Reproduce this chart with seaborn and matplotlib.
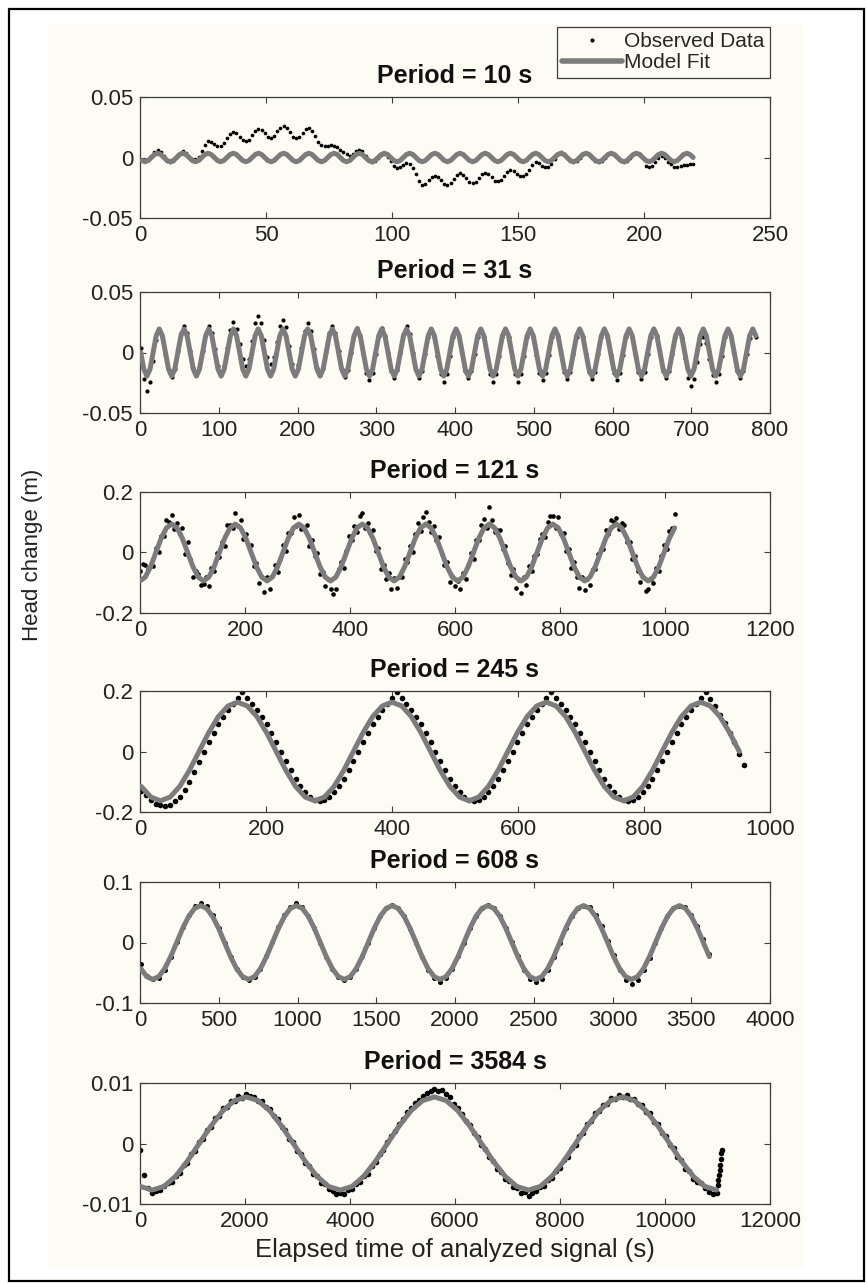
import numpy as np
import matplotlib
matplotlib.use("Agg")
import matplotlib.pyplot as plt
from matplotlib.lines import Line2D
from matplotlib.patches import Rectangle
import seaborn as sns

# ------------------------------------------------------------------ data
titles = ["Period = 10 s", "Period = 31 s", "Period = 121 s",
          "Period = 245 s", "Period = 608 s", "Period = 3584 s"]
x_limits = [(0, 250), (0, 800), (0, 1200), (0, 1000), (0, 4000), (0, 12000)]
x_ticks = [[0, 50, 100, 150, 200, 250],
           [0, 100, 200, 300, 400, 500, 600, 700, 800],
           [0, 200, 400, 600, 800, 1000, 1200],
           [0, 200, 400, 600, 800, 1000],
           [0, 500, 1000, 1500, 2000, 2500, 3000, 3500, 4000],
           [0, 2000, 4000, 6000, 8000, 10000, 12000]]
y_limits = [(-0.05, 0.05), (-0.05, 0.05), (-0.2, 0.2),
            (-0.2, 0.2), (-0.1, 0.1), (-0.01, 0.01)]
y_ticks = [[-0.05, 0, 0.05], [-0.05, 0, 0.05], [-0.2, 0, 0.2],
           [-0.2, 0, 0.2], [-0.1, 0, 0.1], [-0.01, 0, 0.01]]
y_tick_labels = [["-0.05", "0", "0.05"], ["-0.05", "0", "0.05"],
                 ["-0.2", "0", "0.2"], ["-0.2", "0", "0.2"],
                 ["-0.1", "0", "0.1"], ["-0.01", "0", "0.01"]]
legend_labels = ["Observed Data", "Model Fit"]
y_label = "Head change (m)"
x_label = "Elapsed time of analyzed signal (s)"

# sampling (start time, step) of each series, in seconds
obs_sampling = [(0.75, 1.25), (0.95, 3.925), (0.0, 5.0417),
                (1.875, 7.65625), (5.0, 38.0), (8.0, 74.667)]
fit_sampling = [(0.75, 1.25), (0.95, 3.925), (0.0, 10.083),
                (1.875, 15.3125), (5.0, 38.0), (8.0, 224.0)]

# ---- Period = 10 s
obs1 = [
    -0.0017, -0.0030, -0.0017, 0.0015, 0.0047, 0.0060, 0.0047, 0.0015,
    -0.0027, -0.0040, -0.0027, 0.0005, 0.0037, 0.0050, 0.0037, 0.0005,
    -0.0012, -0.0015, 0.0008, 0.0050, 0.0102, 0.0135, 0.0132, 0.0110,
    0.0093, 0.0095, 0.0118, 0.0160, 0.0197, 0.0210, 0.0202, 0.0170,
    0.0143, 0.0135, 0.0148, 0.0185, 0.0222, 0.0235, 0.0227, 0.0200,
    0.0173, 0.0165, 0.0178, 0.0215, 0.0247, 0.0260, 0.0242, 0.0210,
    0.0173, 0.0160, 0.0173, 0.0200, 0.0232, 0.0245, 0.0222, 0.0180,
    0.0130, 0.0105, 0.0095, 0.0095, 0.0100, 0.0098, 0.0085, 0.0060,
    0.0045, 0.0025, 0.0015, 0.0025, 0.0050, 0.0065, 0.0050, 0.0015,
    -0.0022, -0.0035, -0.0027, 0.0000, 0.0022, 0.0025, 0.0007, -0.0030,
    -0.0067, -0.0085, -0.0082, -0.0060, -0.0048, -0.0055, -0.0088, -0.0140,
    -0.0192, -0.0225, -0.0217, -0.0190, -0.0163, -0.0155, -0.0163, -0.0190,
    -0.0222, -0.0230, -0.0212, -0.0180, -0.0143, -0.0130, -0.0143, -0.0170,
    -0.0202, -0.0213, -0.0200, -0.0170, -0.0138, -0.0127, -0.0138, -0.0165,
    -0.0192, -0.0195, -0.0182, -0.0150, -0.0118, -0.0105, -0.0113, -0.0140,
    -0.0152, -0.0155, -0.0137, -0.0100, -0.0058, -0.0035, -0.0043, -0.0070,
    -0.0077, -0.0075, -0.0052, -0.0010, 0.0027, 0.0045, 0.0032, 0.0000,
    -0.0025, -0.0035, -0.0025, 0.0000, 0.0025, 0.0035, 0.0025, 0.0000,
    -0.0025, -0.0035, -0.0025, 0.0000, 0.0025, 0.0035, 0.0025, 0.0000,
    -0.0025, -0.0035, -0.0025, 0.0000, 0.0025, 0.0035, 0.0025, 0.0000,
    -0.0067, -0.0080, -0.0067, -0.0035, -0.0003, 0.0010, -0.0003, -0.0035,
    -0.0050, -0.0075, -0.0075, -0.0070, -0.0065, -0.0060, -0.0055, -0.0050,
]
fit1 = [
    -0.0025, -0.0035, -0.0025, 0.0, 0.0025, 0.0035, 0.0025, 0.0,
    -0.0025, -0.0035, -0.0025, 0.0, 0.0025, 0.0035, 0.0025, 0.0,
    -0.0025, -0.0035, -0.0025, 0.0, 0.0025, 0.0035, 0.0025, 0.0,
    -0.0025, -0.0035, -0.0025, 0.0, 0.0025, 0.0035, 0.0025, 0.0,
    -0.0025, -0.0035, -0.0025, 0.0, 0.0025, 0.0035, 0.0025, 0.0,
    -0.0025, -0.0035, -0.0025, 0.0, 0.0025, 0.0035, 0.0025, 0.0,
    -0.0025, -0.0035, -0.0025, 0.0, 0.0025, 0.0035, 0.0025, 0.0,
    -0.0025, -0.0035, -0.0025, 0.0, 0.0025, 0.0035, 0.0025, 0.0,
    -0.0025, -0.0035, -0.0025, 0.0, 0.0025, 0.0035, 0.0025, 0.0,
    -0.0025, -0.0035, -0.0025, 0.0, 0.0025, 0.0035, 0.0025, 0.0,
    -0.0025, -0.0035, -0.0025, 0.0, 0.0025, 0.0035, 0.0025, 0.0,
    -0.0025, -0.0035, -0.0025, 0.0, 0.0025, 0.0035, 0.0025, 0.0,
    -0.0025, -0.0035, -0.0025, 0.0, 0.0025, 0.0035, 0.0025, 0.0,
    -0.0025, -0.0035, -0.0025, 0.0, 0.0025, 0.0035, 0.0025, 0.0,
    -0.0025, -0.0035, -0.0025, 0.0, 0.0025, 0.0035, 0.0025, 0.0,
    -0.0025, -0.0035, -0.0025, 0.0, 0.0025, 0.0035, 0.0025, 0.0,
    -0.0025, -0.0035, -0.0025, 0.0, 0.0025, 0.0035, 0.0025, 0.0,
    -0.0025, -0.0035, -0.0025, 0.0, 0.0025, 0.0035, 0.0025, 0.0,
    -0.0025, -0.0035, -0.0025, 0.0, 0.0025, 0.0035, 0.0025, 0.0,
    -0.0025, -0.0035, -0.0025, 0.0, 0.0025, 0.0035, 0.0025, 0.0,
    -0.0025, -0.0035, -0.0025, 0.0, 0.0025, 0.0035, 0.0025, 0.0,
    -0.0025, -0.0035, -0.0025, 0.0, 0.0025, 0.0035, 0.0025, 0.0,
]

# ---- Period = 31 s
obs2 = [
    0.0040, -0.0215, -0.0320, -0.0247, -0.0070, 0.0107, 0.0180, 0.0124,
    -0.0010, -0.0144, -0.0200, -0.0138, 0.0010, 0.0158, 0.0220, 0.0160,
    0.0015, -0.0130, -0.0190, -0.0130, 0.0015, 0.0160, 0.0220, 0.0163,
    0.0025, -0.0113, -0.0170, -0.0108, 0.0040, 0.0188, 0.0250, 0.0197,
    0.0070, -0.0057, -0.0110, -0.0050, 0.0095, 0.0240, 0.0300, 0.0241,
    0.0100, -0.0038, -0.0095, -0.0041, 0.0090, 0.0217, 0.0270, 0.0207,
    0.0055, -0.0097, -0.0160, -0.0101, 0.0040, 0.0181, 0.0240, 0.0177,
    0.0025, -0.0127, -0.0190, -0.0130, 0.0015, 0.0160, 0.0220, 0.0158,
    0.0010, -0.0138, -0.0200, -0.0141, 0.0000, 0.0141, 0.0200, 0.0137,
    -0.0015, -0.0167, -0.0230, -0.0167, -0.0015, 0.0137, 0.0200, 0.0140,
    -0.0005, -0.0150, -0.0210, -0.0148, 0.0000, 0.0148, 0.0220, 0.0156,
    0.0000, -0.0148, -0.0210, -0.0152, -0.0010, 0.0131, 0.0190, 0.0127,
    -0.0025, -0.0177, -0.0240, -0.0177, -0.0025, 0.0127, 0.0190, 0.0131,
    -0.0010, -0.0151, -0.0210, -0.0151, -0.0010, 0.0131, 0.0190, 0.0127,
    -0.0025, -0.0177, -0.0240, -0.0177, -0.0025, 0.0127, 0.0190, 0.0127,
    -0.0025, -0.0177, -0.0240, -0.0177, -0.0025, 0.0127, 0.0190, 0.0128,
    -0.0020, -0.0168, -0.0230, -0.0168, -0.0020, 0.0128, 0.0190, 0.0130,
    -0.0015, -0.0160, -0.0220, -0.0160, -0.0015, 0.0130, 0.0190, 0.0130,
    -0.0015, -0.0160, -0.0220, -0.0160, -0.0015, 0.0130, 0.0190, 0.0128,
    -0.0020, -0.0168, -0.0230, -0.0168, -0.0020, 0.0128, 0.0190, 0.0130,
    -0.0015, -0.0160, -0.0220, -0.0160, -0.0015, 0.0130, 0.0190, 0.0134,
    -0.0010, -0.0151, -0.0210, -0.0151, -0.0010, 0.0131, 0.0190, 0.0121,
    -0.0045, -0.0211, -0.0280, -0.0220, -0.0075, 0.0070, 0.0130, 0.0076,
    -0.0055, -0.0186, -0.0240, -0.0177, -0.0025, 0.0127, 0.0190, 0.0131,
    -0.0010, -0.0151, -0.0210, -0.0153, -0.0015, 0.0123, 0.0180, 0.0130,
]
fit2 = [
    0.0, -0.0138, -0.0195, -0.0138, 0.0, 0.0138, 0.0195, 0.0138,
    0.0, -0.0138, -0.0195, -0.0138, 0.0, 0.0138, 0.0195, 0.0138,
    0.0, -0.0138, -0.0195, -0.0138, 0.0, 0.0138, 0.0195, 0.0138,
    0.0, -0.0138, -0.0195, -0.0138, 0.0, 0.0138, 0.0195, 0.0138,
    0.0, -0.0138, -0.0195, -0.0138, 0.0, 0.0138, 0.0195, 0.0138,
    0.0, -0.0138, -0.0195, -0.0138, 0.0, 0.0138, 0.0195, 0.0138,
    0.0, -0.0138, -0.0195, -0.0138, 0.0, 0.0138, 0.0195, 0.0138,
    0.0, -0.0138, -0.0195, -0.0138, 0.0, 0.0138, 0.0195, 0.0138,
    0.0, -0.0138, -0.0195, -0.0138, 0.0, 0.0138, 0.0195, 0.0138,
    0.0, -0.0138, -0.0195, -0.0138, 0.0, 0.0138, 0.0195, 0.0138,
    0.0, -0.0138, -0.0195, -0.0138, 0.0, 0.0138, 0.0195, 0.0138,
    0.0, -0.0138, -0.0195, -0.0138, 0.0, 0.0138, 0.0195, 0.0138,
    0.0, -0.0138, -0.0195, -0.0138, 0.0, 0.0138, 0.0195, 0.0138,
    0.0, -0.0138, -0.0195, -0.0138, 0.0, 0.0138, 0.0195, 0.0138,
    0.0, -0.0138, -0.0195, -0.0138, 0.0, 0.0138, 0.0195, 0.0138,
    0.0, -0.0138, -0.0195, -0.0138, 0.0, 0.0138, 0.0195, 0.0138,
    0.0, -0.0138, -0.0195, -0.0138, 0.0, 0.0138, 0.0195, 0.0138,
    0.0, -0.0138, -0.0195, -0.0138, 0.0, 0.0138, 0.0195, 0.0138,
    0.0, -0.0138, -0.0195, -0.0138, 0.0, 0.0138, 0.0195, 0.0138,
    0.0, -0.0138, -0.0195, -0.0138, 0.0, 0.0138, 0.0195, 0.0138,
    0.0, -0.0138, -0.0195, -0.0138, 0.0, 0.0138, 0.0195, 0.0138,
    0.0, -0.0138, -0.0195, -0.0138, 0.0, 0.0138, 0.0195, 0.0138,
    0.0, -0.0138, -0.0195, -0.0138, 0.0, 0.0138, 0.0195, 0.0138,
    0.0, -0.0138, -0.0195, -0.0138, 0.0, 0.0138, 0.0195, 0.0138,
    0.0, -0.0138, -0.0195, -0.0138, 0.0, 0.0138, 0.0195, 0.0138,
]

# ---- Period = 121 s
obs3 = [
    -0.060, -0.037, -0.042, -0.056, -0.040, -0.046, 0.015, 0.001, 0.055, 0.056, 0.107, 0.102,
    0.125, 0.077, 0.097, 0.061, 0.080, -0.004, 0.035, -0.021, -0.080, -0.061, -0.072, -0.107,
    -0.105, -0.082, -0.112, -0.051, -0.060, -0.001, -0.015, 0.036, 0.020, 0.091, 0.092, 0.082,
    0.130, 0.087, 0.107, 0.046, 0.060, 0.021, 0.025, -0.046, -0.035, -0.101, -0.082, -0.132,
    -0.080, -0.122, -0.077, -0.041, -0.065, -0.021, 0.025, 0.006, 0.065, 0.066, 0.117, 0.087,
    0.125, 0.077, 0.082, 0.091, 0.020, 0.041, -0.010, -0.001, -0.070, -0.066, -0.112, -0.087,
    -0.120, -0.137, -0.122, -0.056, -0.030, -0.051, 0.005, 0.056, 0.040, 0.086, 0.067, 0.122,
    0.130, 0.082, 0.097, 0.066, 0.075, 0.006, 0.015, -0.056, -0.040, -0.086, -0.067, -0.122,
    -0.085, -0.117, -0.082, -0.081, -0.020, -0.031, 0.020, 0.001, 0.060, 0.096, 0.072, 0.117,
    0.135, 0.102, 0.067, 0.086, 0.040, 0.051, -0.005, -0.041, -0.030, -0.096, -0.077, -0.112,
    -0.095, -0.122, -0.067, -0.086, -0.040, -0.001, -0.020, 0.041, 0.040, 0.091, 0.112, 0.082,
    0.150, 0.107, 0.067, 0.076, 0.075, 0.011, 0.020, -0.036, -0.075, -0.056, -0.117, -0.092,
    -0.135, -0.082, -0.107, -0.046, -0.060, -0.011, -0.005, 0.046, 0.060, 0.051, 0.102, 0.122,
    0.120, 0.082, 0.117, 0.061, 0.065, 0.006, 0.010, -0.051, -0.030, -0.081, -0.117, -0.082,
    -0.125, -0.087, -0.107, -0.056, -0.055, -0.006, 0.010, 0.011, 0.075, 0.061, 0.107, 0.102,
    0.115, 0.077, 0.097, 0.091, 0.035, 0.036, -0.020, -0.011, -0.060, -0.096, -0.082, -0.127,
    -0.120, -0.087, -0.102, -0.051, -0.060, -0.011, 0.025, 0.011, 0.070, 0.081, 0.127,
]
fit3 = [
    -0.094, -0.0814, -0.047, 0.0, 0.047, 0.0814, 0.094, 0.0814, 0.047, 0.0, -0.047, -0.0814,
    -0.094, -0.0814, -0.047, 0.0, 0.047, 0.0814, 0.094, 0.0814, 0.047, 0.0, -0.047, -0.0814,
    -0.094, -0.0814, -0.047, 0.0, 0.047, 0.0814, 0.094, 0.0814, 0.047, 0.0, -0.047, -0.0814,
    -0.094, -0.0814, -0.047, 0.0, 0.047, 0.0814, 0.094, 0.0814, 0.047, 0.0, -0.047, -0.0814,
    -0.094, -0.0814, -0.047, 0.0, 0.047, 0.0814, 0.094, 0.0814, 0.047, 0.0, -0.047, -0.0814,
    -0.094, -0.0814, -0.047, 0.0, 0.047, 0.0814, 0.094, 0.0814, 0.047, 0.0, -0.047, -0.0814,
    -0.094, -0.0814, -0.047, 0.0, 0.047, 0.0814, 0.094, 0.0814, 0.047, 0.0, -0.047, -0.0814,
    -0.094, -0.0814, -0.047, 0.0, 0.047, 0.0814, 0.094, 0.0814, 0.047, 0.0, -0.047, -0.0814,
    -0.094, -0.0814, -0.047, 0.0, 0.047, 0.0814,
]

# ---- Period = 245 s
obs4 = [
    -0.130, -0.145, -0.160, -0.172, -0.178, -0.180, -0.176, -0.165,
    -0.150, -0.128, -0.100, -0.068, -0.036, -0.003, 0.0318, 0.0624,
    0.0906, 0.1153, 0.137, 0.158, 0.178, 0.198, 0.178, 0.158,
    0.137, 0.1153, 0.0906, 0.0624, 0.0318, 0.0, -0.0318, -0.0624,
    -0.0906, -0.1153, -0.1355, -0.1506, -0.1599, -0.163, -0.1599, -0.1506,
    -0.1355, -0.1153, -0.0906, -0.0624, -0.0318, 0.0, 0.0318, 0.0624,
    0.0906, 0.1153, 0.137, 0.158, 0.178, 0.198, 0.178, 0.158,
    0.137, 0.1153, 0.0906, 0.0624, 0.0318, 0.0, -0.0318, -0.0624,
    -0.0906, -0.1153, -0.1355, -0.1506, -0.1599, -0.163, -0.1599, -0.1506,
    -0.1355, -0.1153, -0.0906, -0.0624, -0.0318, 0.0, 0.0318, 0.0624,
    0.0906, 0.1153, 0.137, 0.158, 0.178, 0.198, 0.178, 0.158,
    0.137, 0.1153, 0.0906, 0.0624, 0.0318, 0.0, -0.0318, -0.0624,
    -0.0906, -0.1153, -0.1355, -0.1506, -0.1599, -0.163, -0.1599, -0.1506,
    -0.1355, -0.1153, -0.0906, -0.0624, -0.0318, 0.0, 0.0318, 0.0624,
    0.0906, 0.1153, 0.137, 0.158, 0.178, 0.198, 0.175, 0.150,
    0.122, 0.093, 0.062, 0.030, -0.007, -0.045,
]
fit4 = [
    -0.1153, -0.1506, -0.163, -0.1506, -0.1153, -0.0624, 0.0, 0.0624,
    0.1153, 0.1506, 0.163, 0.1506, 0.1153, 0.0624, 0.0, -0.0624,
    -0.1153, -0.1506, -0.163, -0.1506, -0.1153, -0.0624, 0.0, 0.0624,
    0.1153, 0.1506, 0.163, 0.1506, 0.1153, 0.0624, 0.0, -0.0624,
    -0.1153, -0.1506, -0.163, -0.1506, -0.1153, -0.0624, 0.0, 0.0624,
    0.1153, 0.1506, 0.163, 0.1506, 0.1153, 0.0624, 0.0, -0.0624,
    -0.1153, -0.1506, -0.163, -0.1506, -0.1153, -0.0624, 0.0, 0.0624,
    0.1153, 0.1506, 0.163, 0.1506, 0.1153, 0.0624, 0.0,
]

# ---- Period = 608 s
obs5 = [
    -0.036, -0.055, -0.061, -0.058, -0.045, -0.024, 0.001, 0.025,
    0.045, 0.060, 0.066, 0.060, 0.045, 0.024, 0.000, -0.024,
    -0.044, -0.057, -0.062, -0.057, -0.043, -0.023, 0.001, 0.025,
    0.045, 0.059, 0.065, 0.059, 0.044, 0.024, 0.000, -0.024,
    -0.044, -0.057, -0.062, -0.057, -0.043, -0.023, 0.000, 0.024,
    0.043, 0.057, 0.062, 0.057, 0.043, 0.023, 0.000, -0.024,
    -0.045, -0.059, -0.065, -0.059, -0.044, -0.023, 0.000, 0.024,
    0.043, 0.057, 0.062, 0.057, 0.043, 0.024, 0.001, -0.023,
    -0.045, -0.060, -0.066, -0.060, -0.045, -0.024, 0.000, 0.024,
    0.043, 0.057, 0.061, 0.058, 0.046, 0.027, 0.003, -0.021,
    -0.046, -0.062, -0.068, -0.062, -0.046, -0.025, 0.000, 0.024,
    0.043, 0.057, 0.061, 0.058, 0.046, 0.028, 0.005, -0.019,
]
fit5 = [
    -0.0431, -0.0564, -0.061, -0.0564, -0.0431, -0.0234, 0.0, 0.0234,
    0.0431, 0.0564, 0.061, 0.0564, 0.0431, 0.0234, 0.0, -0.0234,
    -0.0431, -0.0564, -0.061, -0.0564, -0.0431, -0.0234, 0.0, 0.0234,
    0.0431, 0.0564, 0.061, 0.0564, 0.0431, 0.0234, 0.0, -0.0234,
    -0.0431, -0.0564, -0.061, -0.0564, -0.0431, -0.0234, 0.0, 0.0234,
    0.0431, 0.0564, 0.061, 0.0564, 0.0431, 0.0234, 0.0, -0.0234,
    -0.0431, -0.0564, -0.061, -0.0564, -0.0431, -0.0234, 0.0, 0.0234,
    0.0431, 0.0564, 0.061, 0.0564, 0.0431, 0.0234, 0.0, -0.0234,
    -0.0431, -0.0564, -0.061, -0.0564, -0.0431, -0.0234, 0.0, 0.0234,
    0.0431, 0.0564, 0.061, 0.0564, 0.0431, 0.0234, 0.0, -0.0234,
    -0.0431, -0.0564, -0.061, -0.0564, -0.0431, -0.0234, 0.0, 0.0234,
    0.0431, 0.0564, 0.061, 0.0564, 0.0431, 0.0234, 0.0, -0.0234,
]

# ---- Period = 3584 s
obs6 = [
    -0.0010, -0.0052, -0.0074, -0.0081, -0.0079, -0.0077, -0.0070, -0.0065,
    -0.0064, -0.0053, -0.0049, -0.0036, -0.0032, -0.0017, -0.0012, 0.0003,
    0.0008, 0.0023, 0.0028, 0.0042, 0.0046, 0.0058, 0.0060, 0.0071,
    0.0070, 0.0079, 0.0076, 0.0081, 0.0078, 0.0077, 0.0070, 0.0070,
    0.0060, 0.0057, 0.0046, 0.0041, 0.0028, 0.0022, 0.0008, 0.0002,
    -0.0012, -0.0018, -0.0033, -0.0037, -0.0051, -0.0054, -0.0066, -0.0067,
    -0.0076, -0.0078, -0.0083, -0.0081, -0.0084, -0.0077, -0.0075, -0.0067,
    -0.0064, -0.0054, -0.0050, -0.0037, -0.0031, -0.0017, -0.0010, 0.0003,
    0.0012, 0.0021, 0.0033, 0.0041, 0.0052, 0.0058, 0.0067, 0.0072,
    0.0078, 0.0083, 0.0086, 0.0090, 0.0087, 0.0089, 0.0082, 0.0077,
    0.0066, 0.0058, 0.0049, 0.0038, 0.0031, 0.0018, 0.0011, -0.0002,
    -0.0009, -0.0022, -0.0029, -0.0042, -0.0047, -0.0058, -0.0062, -0.0072,
    -0.0074, -0.0081, -0.0080, -0.0086, -0.0082, -0.0079, -0.0072, -0.0070,
    -0.0061, -0.0057, -0.0046, -0.0041, -0.0028, -0.0022, -0.0008, -0.0002,
    0.0012, 0.0018, 0.0032, 0.0037, 0.0050, 0.0053, 0.0064, 0.0066,
    0.0075, 0.0074, 0.0080, 0.0077, 0.0080, 0.0073, 0.0074, 0.0065,
    0.0064, 0.0052, 0.0050, 0.0036, 0.0032, 0.0017, 0.0012, -0.0003,
    -0.0008, -0.0023, -0.0027, -0.0042, -0.0046, -0.0058, -0.0063, -0.0065,
    -0.0074, -0.0080, -0.0083, -0.0081,
]
obs6_tail_t = [11000, 11015, 11030, 11040, 11050, 11060, 11070, 11080]
obs6_tail = [-0.0068, -0.0060, -0.0052, -0.0044, -0.0035, -0.0025, -0.0016, -0.0010]
fit6 = [
    -0.0071, -0.0077, -0.0071, -0.0054, -0.0029, 0.0, 0.0029, 0.0054,
    0.0071, 0.0077, 0.0071, 0.0054, 0.0029, 0.0, -0.0029, -0.0054,
    -0.0071, -0.0077, -0.0071, -0.0054, -0.0029, 0.0, 0.0029, 0.0054,
    0.0071, 0.0077, 0.0071, 0.0054, 0.0029, 0.0, -0.0029, -0.0054,
    -0.0071, -0.0077, -0.0071, -0.0054, -0.0029, 0.0, 0.0029, 0.0054,
    0.0071, 0.0077, 0.0071, 0.0054, 0.0029, 0.0, -0.0029, -0.0054,
    -0.0071, -0.0077,
]

observed = [obs1, obs2, obs3, obs4, obs5, obs6]
fitted = [fit1, fit2, fit3, fit4, fit5, fit6]

# ------------------------------------------------------------------ style
W, H = 867, 1283
CREAM = "#fcfcf5"
FIT_GREY = "#7c7c7c"
AX_COLOR = "#3c3c3c"
dot_sizes = [7, 9, 11, 16, 13, 16]

sns.set_theme(style="white")
plt.rcParams["font.family"] = ["Liberation Sans", "DejaVu Sans"]

fig = plt.figure(figsize=(W / 100, H / 100), dpi=100, facecolor="white")
fig.patches.append(Rectangle((48 / W, 1 - 1267 / H), (803 - 48) / W, (1267 - 25) / H,
                             transform=fig.transFigure, facecolor=CREAM,
                             edgecolor="none", zorder=-10))
fig.patches.append(Rectangle((9 / W, 1 - 1281 / H), (864 - 9) / W, (1281 - 9) / H,
                             transform=fig.transFigure, fill=False,
                             edgecolor="black", linewidth=1.6, zorder=10))

panel_tops = [97, 292, 492, 691, 882, 1083]
panel_h = 121
ax_left, ax_w = 140, 630

for i in range(6):
    top = panel_tops[i]
    ax = fig.add_axes([ax_left / W, 1 - (top + panel_h) / H, ax_w / W, panel_h / H])
    ax.set_facecolor("none")

    o0, od = obs_sampling[i]
    t_obs = o0 + od * np.arange(len(observed[i]))
    y_obs = np.asarray(observed[i], dtype=float)
    if i == 5:
        t_obs = np.concatenate([t_obs, obs6_tail_t])
        y_obs = np.concatenate([y_obs, obs6_tail])
    f0, fd = fit_sampling[i]
    t_fit = f0 + fd * np.arange(len(fitted[i]))

    sns.scatterplot(x=t_obs, y=y_obs, ax=ax, color="black", s=dot_sizes[i],
                    linewidth=0, zorder=2, legend=False)
    sns.lineplot(x=t_fit, y=fitted[i], ax=ax, color=FIT_GREY, linewidth=3.6,
                 estimator=None, sort=False, zorder=3, legend=False)

    ax.set_xlim(*x_limits[i])
    ax.set_ylim(*y_limits[i])
    ax.set_xticks(x_ticks[i])
    ax.set_xticklabels([str(v) for v in x_ticks[i]])
    ax.set_yticks(y_ticks[i])
    ax.set_yticklabels(y_tick_labels[i])
    ax.set_xlabel("")
    ax.set_ylabel("")
    for sp in ax.spines.values():
        sp.set_visible(True)
        sp.set_color(AX_COLOR)
        sp.set_linewidth(0.9)
    ax.tick_params(direction="in", top=True, right=True, bottom=True, left=True,
                   length=4, width=0.8, color=AX_COLOR, labelsize=16,
                   labelcolor="#222222", pad=5)
    ax.set_title(titles[i], fontsize=18, fontweight="bold", pad=10, color="#111111")

fig.text(33 / W, 1 - 555 / H, y_label, rotation=90, ha="center", va="center",
         fontsize=16, color="#222222")
fig.text(455 / W, 1 - 1250 / H, x_label, ha="center", va="center",
         fontsize=18.5, color="#222222")

handles = [Line2D([], [], marker=".", linestyle="none", color="black", markersize=4),
           Line2D([], [], color=FIT_GREY, linewidth=4)]
leg = fig.legend(handles, legend_labels, loc="upper right",
                 bbox_to_anchor=(770 / W, 1 - 27 / H), frameon=True, fancybox=False,
                 edgecolor=AX_COLOR, facecolor=CREAM, framealpha=1, fontsize=15,
                 handlelength=2.9, handletextpad=0.1, borderpad=0.25,
                 labelspacing=0.1, borderaxespad=0)
leg.get_frame().set_linewidth(0.9)

fig.savefig("out.png", dpi=100, facecolor="white")
